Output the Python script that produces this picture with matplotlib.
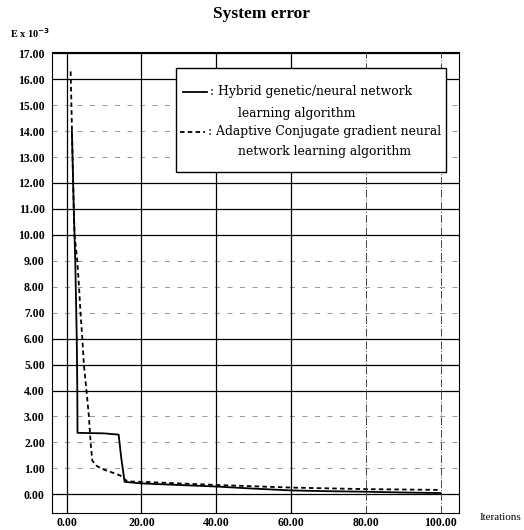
import matplotlib
matplotlib.use("Agg")
import matplotlib.pyplot as plt
from matplotlib.patches import Rectangle
from matplotlib.lines import Line2D

plt.rcParams['font.family'] = ['Liberation Serif', 'DejaVu Serif']

# values (error x 10^-3)
hybrid_x = [1.4, 1.9, 2.3, 2.7, 2.85, 2.9, 6.0, 10.0, 13.9, 14.6, 15.5, 20, 30, 40, 50, 60, 70, 80, 90, 100]
hybrid_y = [14.0, 11.0, 9.0, 6.0, 4.0, 2.37, 2.36, 2.35, 2.3, 1.4, 0.48, 0.42, 0.36, 0.3, 0.22, 0.15, 0.12, 0.1, 0.07, 0.05]

acg_x = [1.07, 1.3, 1.9, 2.1, 2.85, 3.3, 3.7, 4.2, 4.6, 5.3, 5.95, 6.4, 6.85, 8.0, 9.1, 12.0, 14.4, 16.2, 22, 40, 60, 80, 100]
acg_y = [16.3, 14.8, 11.0, 10.0, 9.0, 8.0, 7.0, 6.0, 5.0, 4.0, 3.0, 2.0, 1.3, 1.1, 1.0, 0.85, 0.72, 0.5, 0.47, 0.36, 0.26, 0.2, 0.17]

x_ticks = [0, 20, 40, 60, 80, 100]
y_ticks = list(range(0, 18))
solid_rows = [0, 4, 5, 6, 10, 11, 12, 16, 17]
faint_cols = [80, 100]

W, H = 524, 530
fig = plt.figure(figsize=(W / 100, H / 100), dpi=100)
ax = fig.add_axes([51.7 / W, 1 - 513 / H, 407.6 / W, 461.3 / H])
ax.set_xlim(-4.0, 105.0)
ax.set_ylim(-0.72, 17.06)

# grid, as printed (some rows faded in the scan)
for v in y_ticks:
    if v in solid_rows:
        ax.axhline(v, color='black', lw=0.9, zorder=1)
    else:
        ax.axhline(v, color='#888888', lw=0.6, ls=(0, (6, 9)), zorder=1)
for v in x_ticks:
    if v in faint_cols:
        ax.axvline(v, color='#444444', lw=0.7, ls=(0, (8, 2, 1, 2)), zorder=1)
    else:
        ax.axvline(v, color='black', lw=0.9, zorder=1)

ax.plot(hybrid_x, hybrid_y, color='black', lw=1.3, zorder=3)
ax.plot(acg_x, acg_y, color='black', lw=1.3, ls=(0, (2.5, 1.8)), zorder=3)

ax.set_xticks(x_ticks)
ax.set_xticklabels(['%.2f' % v for v in x_ticks])
ax.set_yticks(y_ticks)
ax.set_yticklabels(['%.2f' % v for v in y_ticks])
ax.tick_params(length=0, labelsize=8.5, pad=5)
ax.tick_params(axis='x', pad=3)
for t in ax.get_xticklabels() + ax.get_yticklabels():
    t.set_fontweight('bold')
for s in ax.spines.values():
    s.set_linewidth(0.8)

# legend box drawn by hand, fixed size like the original
def fx(px):
    return px / W
def fy(py):
    return 1 - py / H

box = Rectangle((fx(176), fy(172)), fx(446) - fx(176), fy(68) - fy(172),
                transform=fig.transFigure, facecolor='white', edgecolor='black',
                lw=1.0, zorder=5)
fig.add_artist(box)
fig.add_artist(Line2D([fx(183), fx(207)], [fy(92), fy(92)], transform=fig.transFigure,
                      color='black', lw=1.3, zorder=6))
fig.add_artist(Line2D([fx(180), fx(205)], [fy(132), fy(132)], transform=fig.transFigure,
                      color='black', lw=1.3, ls=(0, (2.5, 1.8)), zorder=6))
leg_kw = dict(fontsize=8.9, family=['DejaVu Serif'], va='center', ha='left', zorder=6)
fig.text(fx(210), fy(92), ': Hybrid genetic/neural network', **leg_kw)
fig.text(fx(238), fy(113), 'learning algorithm', **leg_kw)
fig.text(fx(208), fy(132), ': Adaptive Conjugate gradient neural', **leg_kw)
fig.text(fx(238), fy(152), 'network learning algorithm', **leg_kw)

fig.text(fx(261), fy(14), 'System error', fontsize=12.5, fontweight='bold',
         ha='center', va='center')
fig.text(fx(10), fy(38), r'E x 10$^{\mathbf{-3}}$', fontsize=7.5, fontweight='bold',
         ha='left', va='baseline')
fig.text(fx(480), fy(517), 'Iterations', fontsize=8, ha='left', va='center')

fig.savefig('out.png', dpi=100)
